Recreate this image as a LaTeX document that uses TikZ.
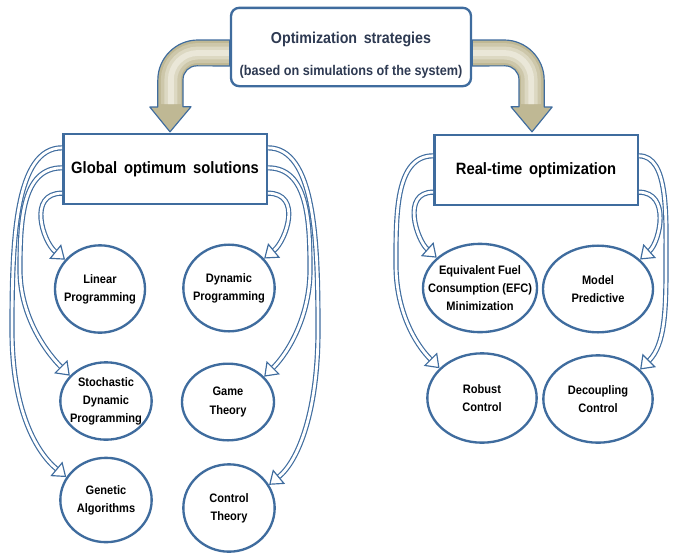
\documentclass[tikz,border=0pt]{standalone}
\usepackage{fontspec}
\setmainfont{Liberation Sans}[FakeStretch=0.9]
\usetikzlibrary{arrows.meta}
\usetikzlibrary{shapes.geometric}
\usetikzlibrary{calc}

\definecolor{lineblue}{HTML}{3F6C9E}
\definecolor{sandfill}{HTML}{BFB894}
\definecolor{sanddark}{HTML}{CDC7AA}
\definecolor{sandmid}{HTML}{DCD8C2}
\definecolor{sandlight}{HTML}{EAE7D8}
\definecolor{titlegray}{HTML}{2E3A52}

\tikzset{
  topbox/.style={draw=lineblue, line width=2pt, fill=white, rounded corners=7pt,
    minimum width=7.2cm, minimum height=2.35cm},
  toptext/.style={text=titlegray, font=\fontsize{13.5}{15}\selectfont\bfseries},
  groupbox/.style={draw=lineblue, line width=2pt, fill=white, minimum width=6.1cm,
    minimum height=2.1cm, font=\fontsize{14}{16}\selectfont\bfseries},
  method/.style={ellipse, draw=lineblue, line width=2pt, fill=white, align=center,
    inner xsep=-6pt, inner ysep=0pt, font=\fontsize{10.5}{15.5}\selectfont\bfseries},
  bigarrow/.style={draw=lineblue, line width=1pt, fill=sandfill, line join=round},
  shine/.style={line width=#1, line cap=butt},
  flow/.style={draw=lineblue, line width=1pt, double=white, double distance=2.4pt,
    -{Triangle[open, length=11pt, width=16pt]}}
}

\begin{document}
\begin{tikzpicture}[x=0.03cm, y=-0.03cm]
\useasboundingbox (0,0) rectangle (674,552);

\node[topbox] (strat) at (351,47) {};
\node[toptext] (strat1) at (351,39) {Optimization\, strategies};
\node[toptext, font=\fontsize{12}{14}\selectfont\bfseries] (strat2) at (351,72)
  {(based on simulations of the system)};

\node[groupbox] (gos) at (165,169) {Global\, optimum\, solutions};
\node[groupbox] (rto) at (536,170) {Real-time\, optimization};

\node[method, minimum width=2.7cm, minimum height=2.62cm] (lin) at (100,289)
  {Linear\\Programming};
\node[method, minimum width=2.74cm, minimum height=2.6cm] (dyn) at (229,288)
  {Dynamic\\Programming};
\node[method, minimum width=2.74cm, minimum height=2.32cm] (sdp) at (106,401)
  {Stochastic\\Dynamic\\Programming};
\node[method, minimum width=2.76cm, minimum height=2.3cm] (gam) at (228,402)
  {Game\\Theory};
\node[method, minimum width=2.74cm, minimum height=2.53cm] (gen) at (106,500)
  {Genetic\\Algorithms};
\node[method, minimum width=2.74cm, minimum height=2.62cm] (con) at (229,508)
  {Control\\Theory};

\node[method, inner xsep=-12pt, minimum width=3.42cm, minimum height=2.65cm] (efc) at (480,288)
  {Equivalent Fuel\\Consumption (EFC)\\Minimization};
\node[method, minimum width=3.3cm, minimum height=2.6cm] (mpc) at (598,289)
  {Model\\Predictive};
\node[method, minimum width=3.28cm, minimum height=2.68cm] (rob) at (482,398)
  {Robust\\Control};
\node[method, minimum width=3.28cm, minimum height=2.62cm] (dec) at (598,399)
  {Decoupling\\Control};

\draw[bigarrow] ($(strat.west)+(0,-7)$) -- ++(-32,0)
  .. controls +(-22,0) and +(0,-22) .. ++(-40,40) -- ++(0,27) -- ++(-8,0)
  -- ($(gos.north)+(5,-1)$) -- ++(21,-25) -- ++(-8,0) -- ++(0,-27)
  .. controls +(0,-8) and +(-8,0) .. ++(14,-14) -- ($(strat.west)+(0,19)$) -- cycle;
\draw[bigarrow] ($(strat.east)+(0,-7)$) -- ++(32,0)
  .. controls +(22,0) and +(0,-22) .. ++(40,40) -- ++(0,27) -- ++(8,0)
  -- ($(rto.north)+(-4,-2)$) -- ++(-21,-25) -- ++(8,0) -- ++(0,-27)
  .. controls +(0,-8) and +(8,0) .. ++(-14,-14) -- ($(strat.east)+(0,19)$) -- cycle;

\foreach \w/\c in {17pt/sanddark, 11pt/sandmid, 5pt/sandlight} {
  \draw[shine=\w, \c] ($(strat.west)+(-1,6)$) -- ++(-31,0)
    .. controls +(-15,0) and +(0,-15) .. ++(-27,27) -- ++(0,24);
  \draw[shine=\w, \c] ($(strat.east)+(1,6)$) -- ++(31,0)
    .. controls +(15,0) and +(0,-15) .. ++(27,27) -- ++(0,24);
}

\draw[flow] ($(gos.north west)+(0,15)$) .. controls +(-47,0) and +(0,-90) .. (12,330)
  .. controls +(0,80) and +(-30,-25) .. (gen.150);
\draw[flow] ($(gos.north west)+(0,35)$) .. controls +(-40,0) and +(0,-50) .. (20,270)
  .. controls +(0,45) and +(-25,-25) .. (sdp.145);
\draw[flow] ($(gos.south west)+(0,-12)$) .. controls +(-35,0) and +(-22,-18) .. (lin.140);

\draw[flow] ($(gos.north east)+(0,15)$) .. controls +(47,0) and +(0,-90) .. (318,330)
  .. controls +(0,80) and +(30,-25) .. (con.30);
\draw[flow] ($(gos.north east)+(0,35)$) .. controls +(40,0) and +(0,-50) .. (310,270)
  .. controls +(0,45) and +(25,-25) .. (gam.35);
\draw[flow] ($(gos.south east)+(0,-12)$) .. controls +(35,0) and +(22,-18) .. (dyn.40);

\draw[flow] ($(rto.north west)+(0,22)$) .. controls +(-38,0) and +(0,-50) .. (396,265)
  .. controls +(0,45) and +(-25,-25) .. (rob.145);
\draw[flow] ($(rto.south west)+(0,-14)$) .. controls +(-32,0) and +(-20,-18) .. (efc.145);
\draw[flow] ($(rto.north east)+(0,22)$) .. controls +(30,0) and +(0,-50) .. (666,265)
  .. controls +(0,45) and +(25,-25) .. (dec.35);
\draw[flow] ($(rto.south east)+(0,-14)$) .. controls +(32,0) and +(20,-18) .. (mpc.35);

\end{tikzpicture}
\end{document}
